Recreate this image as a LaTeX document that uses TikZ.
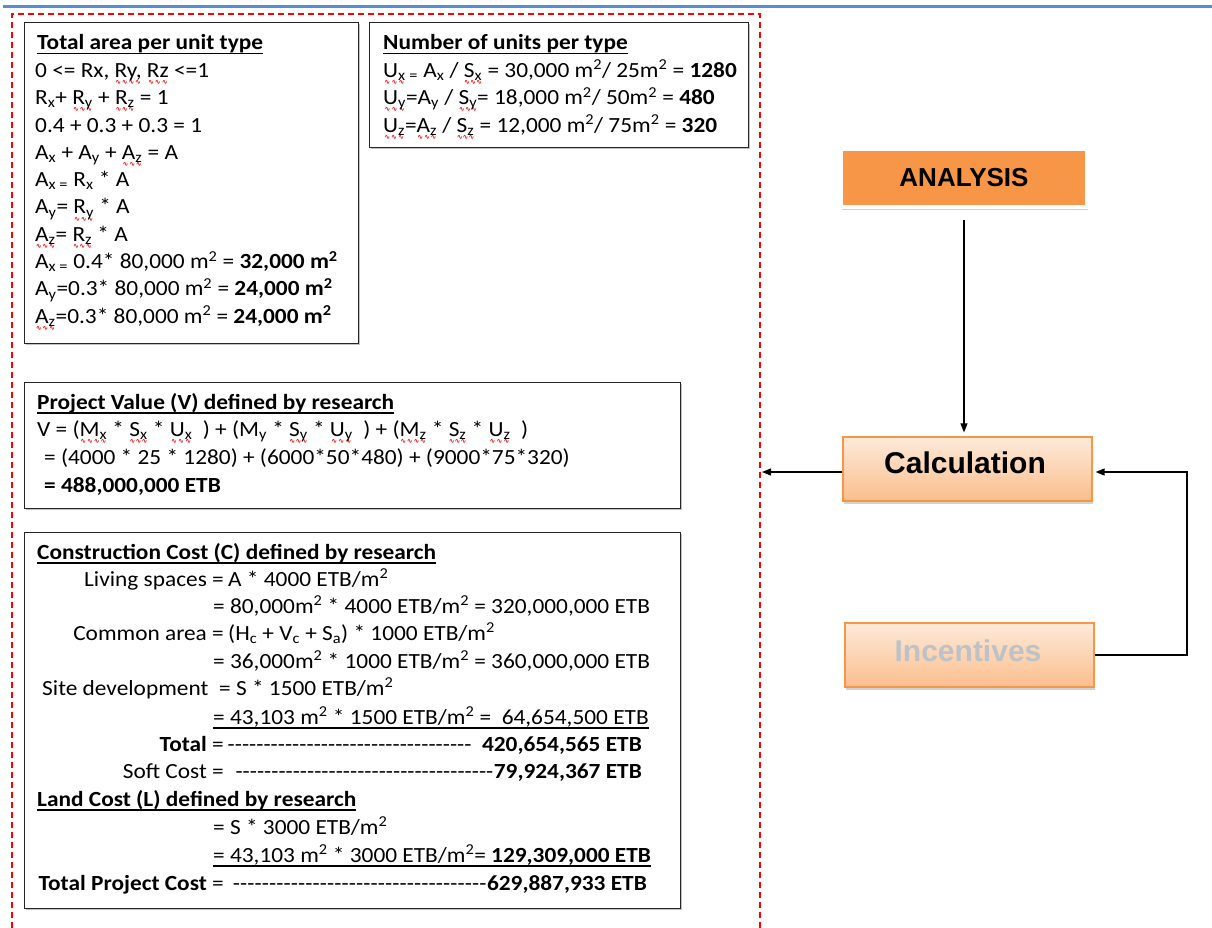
\documentclass[tikz,border=0pt]{standalone}
\usepackage{fontspec}
\setmainfont{Carlito}[FakeStretch=1.08]
\newfontfamily\boxfont{Liberation Sans}
\newfontfamily\wavefont{DejaVu Sans}
\usetikzlibrary{arrows.meta,shadows}

\definecolor{topline}{RGB}{85,142,213}
\definecolor{orangefill}{RGB}{247,150,70}
\definecolor{peachtop}{RGB}{253,234,218}
\definecolor{peachbot}{RGB}{251,190,140}
\definecolor{fadedtext}{RGB}{190,194,198}

% subscript, squared, red spelling squiggle, solid underline, run of hyphens
\newcommand\lo[1]{\textsubscript{#1}}
\newcommand\two{\textsuperscript{2}}
\newcommand\sq[1]{\setbox0\hbox{#1}\rlap{\raisebox{-7pt}{\textcolor{red}{\makebox[\wd0][l]{\xleaders\hbox{\wavefont\bfseries\fontsize{7}{7}\selectfont ∿}\hfill}}}}\box0\relax}
\newcommand\ul[1]{\setbox0\hbox{#1}\rlap{\rule[-4.5pt]{\wd0}{1.3pt}}\box0\relax}
\newcommand\dashrun[1]{\makebox[#1][l]{\xleaders\hbox{-}\hfill}}

\tikzset{
  panel/.style={draw=black!85, line width=1.2pt, fill=white, anchor=north west, inner sep=0pt,
    drop shadow={shadow xshift=1.5pt, shadow yshift=-1.5pt, fill=black!40, opacity=0.6}},
  txt/.style={anchor=base west, inner sep=0pt, font=\fontsize{21.6}{25}\selectfont},
  lbl/.style={anchor=base east, inner sep=0pt, font=\fontsize{21.6}{25}\selectfont},
  stepbox/.style={draw=orangefill, line width=1.2pt, top color=peachtop, bottom color=peachbot,
    minimum width=249pt, minimum height=64pt, inner sep=0pt,
    drop shadow={shadow xshift=1pt, shadow yshift=-2.5pt, fill=black!35, opacity=0.5}},
  arr/.style={-{Triangle[length=9pt,width=7pt]}, line width=1.3pt, black}
}

\begin{document}
\begin{tikzpicture}[x=1pt,y=-1pt]
\useasboundingbox (0,0) rectangle (1212,928);

% heading rule and dashed frame
\draw[topline, line width=3pt] (3,7) -- (1212,7);
\draw[red, line width=1.2pt, dash pattern=on 6pt off 4pt] (12,928) -- (12,14) -- (760,14) -- (760,928);

% ---------- total area per unit type ----------
\node[panel, minimum width=334pt, minimum height=321pt] (areabox) at (24,22) {};
\node[txt] (a0) at (37,50) {\ul{\textbf{Total area per unit type}}};
\node[txt] (a1) at (35,77.5) {0 <= Rx, \sq{Ry,} \sq{Rz} <=1};
\node[txt] (a2) at (35,104.8) {R\lo{x}+ \sq{R\lo{y}} + \sq{R\lo{z}} = 1};
\node[txt] (a3) at (35,132.1) {0.4 + 0.3 + 0.3 = 1};
\node[txt] (a4) at (35,159.4) {A\lo{x} + A\lo{y} + \sq{A\lo{z}} = A};
\node[txt] (a5) at (35,186.7) {A\lo{x =} R\lo{x} * A};
\node[txt] (a6) at (35,214) {A\lo{y}= \sq{R\lo{y}} * A};
\node[txt] (a7) at (35,241.3) {\sq{A\lo{z}}= \sq{R\lo{z}} * A};
\node[txt] (a8) at (35,268.6) {A\lo{x =} 0.4* 80,000 m\two{} = \textbf{32,000 m\two}};
\node[txt] (a9) at (35,295.9) {A\lo{y}=0.3* 80,000 m\two{} = \textbf{24,000 m\two}};
\node[txt] (a10) at (35,323.2) {\sq{A\lo{z}}=0.3* 80,000 m\two{} = \textbf{24,000 m\two}};

% ---------- number of units per type ----------
\node[panel, minimum width=379pt, minimum height=125pt] (unitbox) at (369,22) {};
\node[txt] (u0) at (383,50) {\ul{\textbf{Number of units per type}}};
\node[txt] (u1) at (383,77.5) {\sq{U\lo{x}}\lo{ =} A\lo{x} / \sq{S\lo{x}} = 30,000 m\two/ 25m\two{} = \textbf{1280}};
\node[txt] (u2) at (383,104.8) {\sq{U\lo{y}}=A\lo{y} / \sq{S\lo{y}}= 18,000 m\two/ 50m\two{} = \textbf{480}};
\node[txt] (u3) at (383,132.1) {\sq{U\lo{z}}=\sq{A\lo{z}} / \sq{S\lo{z}} = 12,000 m\two/ 75m\two{} = \textbf{320}};

% ---------- project value ----------
\node[panel, minimum width=656pt, minimum height=126pt] (valbox) at (24,382) {};
\node[txt] (v0) at (37,409) {\ul{\textbf{Project Value (V) defined by research}}};
\node[txt] (v1) at (37,436) {V = (\sq{M\lo{x}} * \sq{S\lo{x}} * \sq{U\lo{x}}\ \ ) + (M\lo{y} * \sq{S\lo{y}} * \sq{U\lo{y}}\ \ ) + (\sq{M\lo{z}} * \sq{S\lo{z}} * \sq{U\lo{z}}\ \ )};
\node[txt] (v2) at (44,464) {= (4000 * 25 * 1280) + (6000*50*480) + (9000*75*320)};
\node[txt] (v3) at (44,492) {\textbf{= 488,000,000 ETB}};

% ---------- construction and land cost ----------
\node[panel, minimum width=656pt, minimum height=376pt] (costbox) at (24,532) {};
\node[txt] (c0) at (37,559) {\ul{\textbf{Construction Cost (C) defined by research}}};
\node[lbl] (c1l) at (224,586) {Living spaces =};
\node[txt] (c1) at (228,586) {A * 4000 ETB/m\two};
\node[txt] (c2) at (213,613) {= 80,000m\two{} * 4000 ETB/m\two{} = 320,000,000 ETB};
\node[lbl] (c3l) at (224,640) {Common area =};
\node[txt] (c3) at (228,640) {(H\lo{c} + V\lo{c} + S\lo{a}) * 1000 ETB/m\two};
\node[txt] (c4) at (213,668) {= 36,000m\two{} * 1000 ETB/m\two{} = 360,000,000 ETB};
\node[txt] (c5) at (42,695) {Site development};
\node[txt] (c5r) at (219,695) {= S * 1500 ETB/m\two};
\node[txt] (c6) at (213,724) {\ul{= 43,103 m\two{} * 1500 ETB/m\two{} = \ 64,654,500 ETB}};
\node[lbl] (c7l) at (224,751) {\textbf{Total} =};
\node[lbl] (c7n) at (642,751) {\textbf{420,654,565 ETB}};
\node[lbl] (c7d) at ([xshift=-10pt]c7n.base west) {\dashrun{244pt}};
\node[lbl] (c8l) at (224,778) {Soft Cost =};
\node[lbl] (c8n) at (642,778) {\textbf{79,924,367 ETB}};
\node[lbl] (c8d) at (c8n.base west) {\dashrun{258pt}};
\node[txt] (l0) at (37,806) {\ul{\textbf{Land Cost (L) defined by research}}};
\node[txt] (l1) at (213,834) {= S * 3000 ETB/m\two};
\node[txt] (l2) at (213,862) {\ul{= 43,103 m\two{} * 3000 ETB/m\two= \textbf{129,309,000 ETB}}};
\node[lbl] (l3l) at (224,890) {\textbf{Total Project Cost} =};
\node[lbl] (l3n) at (647,890) {\textbf{629,887,933 ETB}};
\node[lbl] (l3d) at (l3n.base west) {\dashrun{254pt}};

% ---------- flow on the right ----------
\node[fill=orangefill, draw=white, line width=3.5pt, minimum width=246pt, minimum height=58pt, inner sep=0pt,
  drop shadow={shadow xshift=0.5pt, shadow yshift=-2.5pt, fill=black!30, opacity=0.6},
  font=\boxfont\bfseries\fontsize{26}{30}\selectfont] (ana) at (964,178) {ANALYSIS};
\node[stepbox] (calc) at (967.5,469) {};
\node[anchor=base, inner sep=0pt, font=\boxfont\bfseries\fontsize{30}{34}\selectfont] (calctxt) at (965,473) {Calculation};
\node[stepbox] (inc) at (969.5,655) {};
\node[anchor=base, inner sep=0pt, text=fadedtext, font=\boxfont\bfseries\fontsize{30}{34}\selectfont] (inctxt) at (968,661) {Incentives};

\coordinate (frameedge) at (762,472);
\coordinate (loopcorner) at (1187,472);
\draw[arr, shorten <=11pt, shorten >=4pt] (ana.south) -- (ana.south |- calc.north);
\draw[arr] ([yshift=-3pt]calc.west) -- (frameedge);
\draw[arr, shorten >=3pt] (inc.east) -| (loopcorner) -- (loopcorner -| calc.east);
\end{tikzpicture}
\end{document}
